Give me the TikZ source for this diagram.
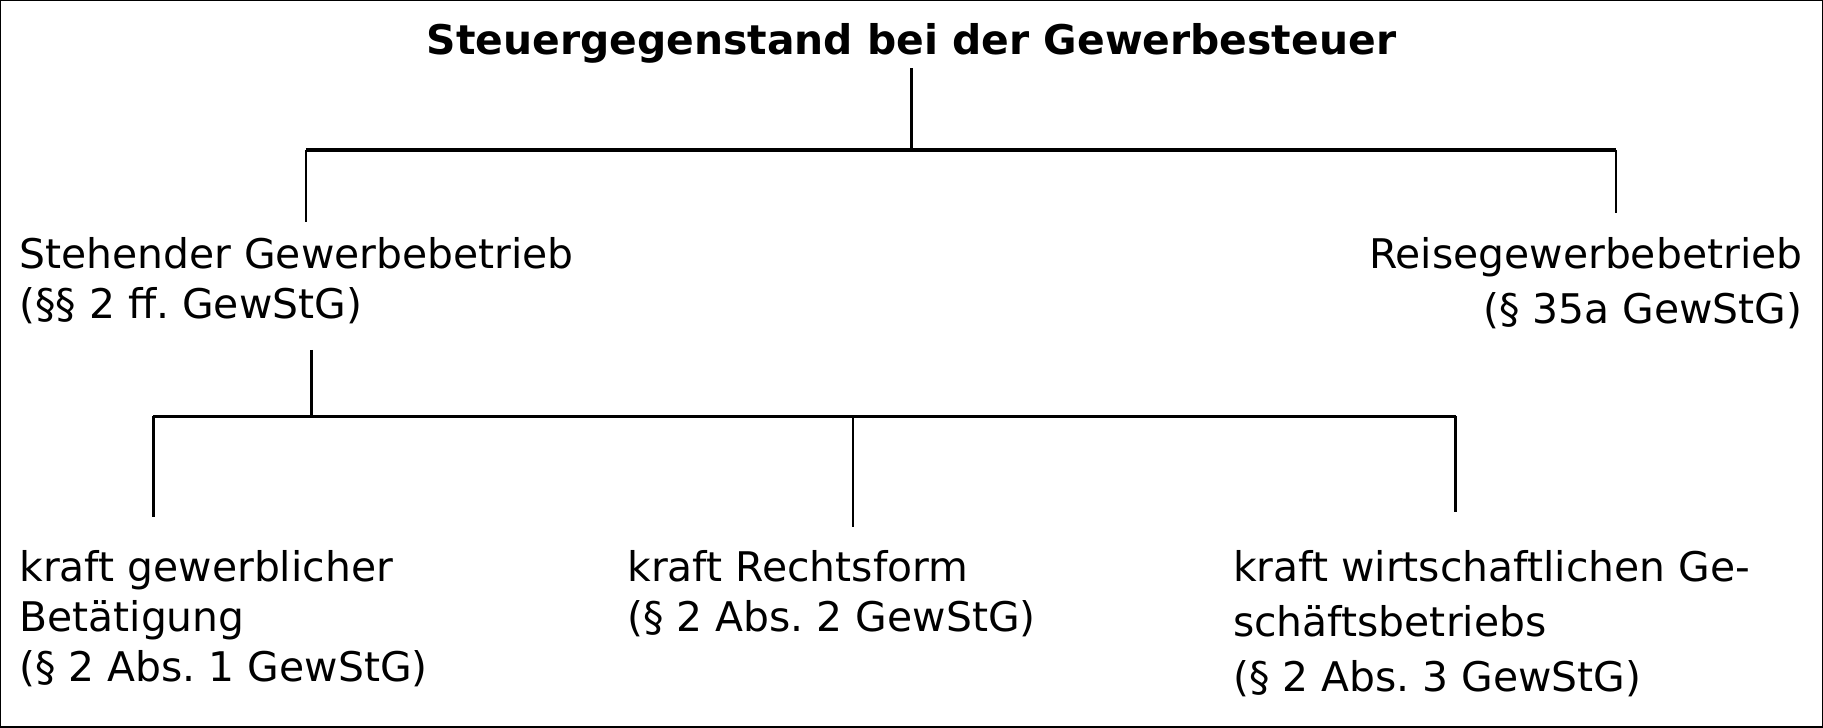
\documentclass[tikz,border=0pt]{standalone}
\usepackage{fontspec}
\setmainfont{DejaVu Sans}
\frenchspacing
\tikzset{
  txt/.style={inner sep=0pt, align=left, font=\fontsize{10pt}{12.2pt}\selectfont},
  txtw/.style={txt, font=\fontsize{10pt}{13.5pt}\selectfont},
  titelstil/.style={inner sep=1pt, font=\fontsize{10pt}{12pt}\selectfont\bfseries},
  ast/.style={line width=0.55pt},
  quer/.style={line width=0.8pt},
}
\begin{document}
\begin{tikzpicture}[x=0.1mm,y=-0.1mm]
    \useasboundingbox (0,0) rectangle (1568,626);
    \draw[line width=0.3pt] (0.6,0.6) rectangle (1567.4,625.4);

    \node[titelstil, anchor=base] (titel) at (784,47) {Steuergegenstand bei der Gewerbesteuer};

    % erste Ebene (Anker an der letzten Zeile)
    \node[txt, anchor=base west] (stehend) at (16,274) {Stehender Gewerbebetrieb\\(§§ 2 ff. GewStG)};
    \node[txtw, anchor=base east, align=right] (reise) at (1551,278) {Reisegewerbebetrieb\\(§ 35a GewStG)};

    % zweite Ebene
    \node[txt, anchor=base west] (gewerbl) at (16,586) {kraft gewerblicher\\Betätigung\\(§ 2 Abs. 1 GewStG)};
    \node[txt, anchor=base west] (rechtsf) at (539,543) {kraft Rechtsform\\(§ 2 Abs. 2 GewStG)};
    \node[txtw, anchor=base west] (wirtsch) at (1060,595) {kraft wirtschaftlichen Ge-\\schäftsbetriebs\\(§ 2 Abs. 3 GewStG)};

    \coordinate (bus1) at (784,129);
    \coordinate (ste-o) at (263,191);
    \coordinate (rei-o) at (1390,183);
    \coordinate (ste-u) at (268,301);
    \coordinate (bus2) at (268,358);
    \coordinate (gew-o) at (132,445);
    \coordinate (rec-o) at (734,453);
    \coordinate (wir-o) at (1252,440);

    \draw[ast] (titel.south) -- (bus1);
    \draw[quer] (ste-o |- bus1) -- (rei-o |- bus1);
    \draw[ast] (ste-o |- bus1) -- (ste-o);
    \draw[ast] (rei-o |- bus1) -- (rei-o);

    \draw[ast] (ste-u) -- (bus2);
    \draw[quer] (gew-o |- bus2) -- (wir-o |- bus2);
    \draw[ast] (gew-o |- bus2) -- (gew-o);
    \draw[ast] (rec-o |- bus2) -- (rec-o);
    \draw[ast] (wir-o |- bus2) -- (wir-o);

\end{tikzpicture}
\end{document}
